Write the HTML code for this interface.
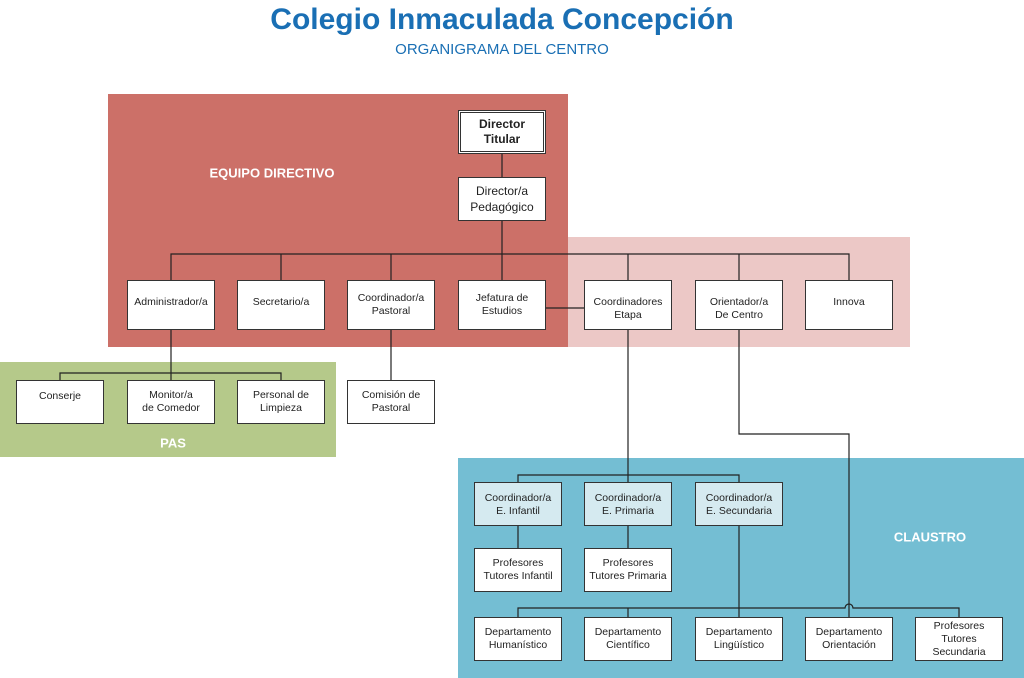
<!DOCTYPE html>
<html><head><meta charset="utf-8"><style>
body{margin:0;width:1024px;height:678px;background:#fff;position:relative;overflow:hidden;font-family:"Liberation Sans",sans-serif}
.r{position:absolute}
.b{position:absolute;background:#fff;border:1px solid #333;box-sizing:border-box;display:flex;align-items:center;justify-content:center;text-align:center;font-size:10.5px;color:#222;line-height:13px}
.lbl{position:absolute;color:#fff;font-weight:bold;font-size:13px;transform:translate(-50%,-50%)}
</style></head><body>
<div class="r" style="left:0;top:3px;width:1004px;text-align:center;color:#1a6fb4;font-weight:bold;font-size:30px">Colegio Inmaculada Concepción</div>
<div class="r" style="left:0;top:41px;width:1004px;text-align:center;color:#1a6fb4;font-size:15px">ORGANIGRAMA DEL CENTRO</div>
<div class="r" style="left:108px;top:94px;width:460px;height:253px;background:#cc7068"></div>
<div class="r" style="left:568px;top:237px;width:342px;height:110px;background:#ecc8c6"></div>
<div class="r" style="left:0;top:362px;width:336px;height:95px;background:#b5c98a"></div>
<div class="r" style="left:458px;top:458px;width:566px;height:220px;background:#74bed3"></div>
<div class="lbl" style="left:272px;top:173px">EQUIPO DIRECTIVO</div>
<div class="lbl" style="left:173px;top:443px">PAS</div>
<div class="lbl" style="left:930px;top:537px">CLAUSTRO</div>
<svg class="r" style="left:0;top:0" width="1024" height="678" fill="none" stroke="#222" stroke-width="1.2">
<path d="M502 154V177M502 221V280M171 280V254H849V280M281 254V280M391 254V280M628 254V280M739 254V280M546 308H584"/>
<path d="M171 330V373M60 380V373H281V380M171 373V380M391 330V380"/>
<path d="M628 330V475M518 482V475H739V482M628 475V482M518 526V548M628 526V548"/>
<path d="M739 526V608M518 617V608H845A4 4 0 0 1 853 608H959V617M628 608V617M739 608V617M959 608V617"/>
<path d="M739 330V434H849V617"/>
</svg>
<div class="b" style="left:458px;top:110px;width:88px;height:44px;border:3px double #333;font-weight:bold;font-size:12px;line-height:15px">Director<br>Titular</div>
<div class="b" style="left:458px;top:177px;width:88px;height:44px;font-size:12px;line-height:16px">Director/a<br>Pedagógico</div>
<div class="b" style="left:127px;top:280px;width:88px;height:50px;align-items:flex-start;padding-top:15px">Administrador/a</div>
<div class="b" style="left:237px;top:280px;width:88px;height:50px;align-items:flex-start;padding-top:15px">Secretario/a</div>
<div class="b" style="left:347px;top:280px;width:88px;height:50px">Coordinador/a<br>Pastoral</div>
<div class="b" style="left:458px;top:280px;width:88px;height:50px">Jefatura de<br>Estudios</div>
<div class="b" style="left:584px;top:280px;width:88px;height:50px;align-items:flex-start;padding-top:15px">Coordinadores<br>Etapa</div>
<div class="b" style="left:695px;top:280px;width:88px;height:50px;align-items:flex-start;padding-top:15px">Orientador/a<br>De Centro</div>
<div class="b" style="left:805px;top:280px;width:88px;height:50px;align-items:flex-start;padding-top:15px">Innova</div>
<div class="b" style="left:16px;top:380px;width:88px;height:44px;align-items:flex-start;padding-top:9px">Conserje</div>
<div class="b" style="left:127px;top:380px;width:88px;height:44px">Monitor/a<br>de Comedor</div>
<div class="b" style="left:237px;top:380px;width:88px;height:44px">Personal de<br>Limpieza</div>
<div class="b" style="left:347px;top:380px;width:88px;height:44px">Comisión de<br>Pastoral</div>
<div class="b" style="left:474px;top:482px;width:88px;height:44px;background:#d5eaf0;align-items:flex-start;padding-top:9px">Coordinador/a<br>E. Infantil</div>
<div class="b" style="left:584px;top:482px;width:88px;height:44px;background:#d5eaf0;align-items:flex-start;padding-top:9px">Coordinador/a<br>E. Primaria</div>
<div class="b" style="left:695px;top:482px;width:88px;height:44px;background:#d5eaf0;align-items:flex-start;padding-top:9px">Coordinador/a<br>E. Secundaria</div>
<div class="b" style="left:474px;top:548px;width:88px;height:44px">Profesores<br>Tutores Infantil</div>
<div class="b" style="left:584px;top:548px;width:88px;height:44px">Profesores<br>Tutores Primaria</div>
<div class="b" style="left:474px;top:617px;width:88px;height:44px">Departamento<br>Humanístico</div>
<div class="b" style="left:584px;top:617px;width:88px;height:44px">Departamento<br>Científico</div>
<div class="b" style="left:695px;top:617px;width:88px;height:44px">Departamento<br>Lingüístico</div>
<div class="b" style="left:805px;top:617px;width:88px;height:44px">Departamento<br>Orientación</div>
<div class="b" style="left:915px;top:617px;width:88px;height:44px">Profesores<br>Tutores<br>Secundaria</div>
</body></html>
